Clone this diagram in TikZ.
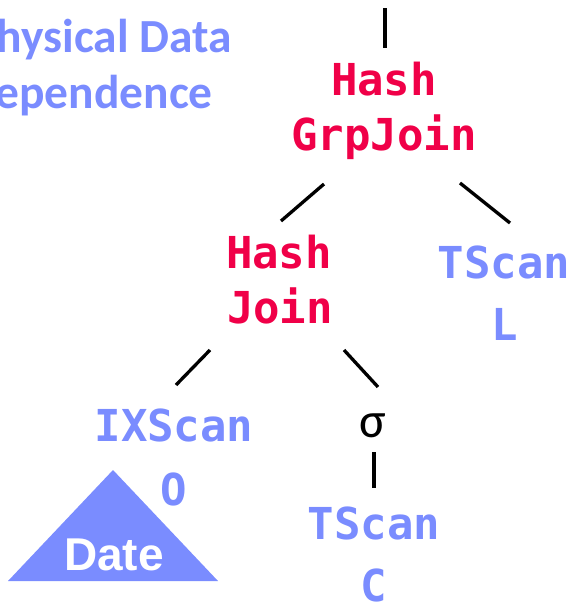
\documentclass[tikz,border=0pt]{standalone}
\usepackage{fontspec}
\newfontfamily\opfont[Scale=1]{DejaVu Sans Mono}
\newfontfamily\headfont{Carlito}
\newfontfamily\datefont{Liberation Sans}
\definecolor{opred}{RGB}{240,0,72}
\definecolor{opblue}{RGB}{122,140,255}
\tikzset{
  lbl/.style={anchor=base, inner sep=0pt, font=\opfont\bfseries\fontsize{44}{44}\selectfont},
  redop/.style={lbl, text=opred},
  blueop/.style={lbl, text=opblue},
  edge/.style={line width=3.3pt, black},
  head/.style={anchor=base east, inner sep=0pt, text=opblue, font=\headfont\bfseries\fontsize{47.5}{47.5}\selectfont}
}
\begin{document}
\begin{tikzpicture}[x=1pt,y=-1pt]
\useasboundingbox (0,0) rectangle (569,603);
\begin{scope}
\clip (0,0) rectangle (569,603);
% heading
\node[head] (h1) at (232,52) {Physical Data};
\node[head] (h2) at (213,108) {Dependence};
% operators
\node[redop] (hgj1) at (384,95) {Hash};
\node[redop] (hgj2) at (384,150) {GrpJoin};
\node[redop] (hj1) at (279,268) {Hash};
\node[redop] (hj2) at (280,323) {Join};
\node[blueop] (tl1) at (504,278) {TScan};
\node[blueop] (tl2) at (505,340) {L};
\node[blueop] (ix1) at (174,441) {IXScan};
\node[blueop] (ix2) at (174,505) {O};
\node[anchor=base, inner sep=0pt, font=\headfont\fontsize{50}{50}\selectfont] (sig) at (373,437) {σ};
\node[blueop] (tc1) at (374,539) {TScan};
\node[blueop] (tc2) at (374,601) {C};
% index triangle
\fill[opblue] (113,470) -- (218,581) -- (8,581) -- cycle;
\node[anchor=base, inner sep=0pt, text=white, font=\datefont\bfseries\fontsize{46}{46}\selectfont] (date) at (114,570) {Date};
% connector end points
\coordinate (t0) at (385,8);
\coordinate (t1) at (385,48);
\coordinate (a0) at (324,184);
\coordinate (a1) at (281,221);
\coordinate (b0) at (460,183);
\coordinate (b1) at (510,223);
\coordinate (c0) at (210,350);
\coordinate (c1) at (176,385);
\coordinate (d0) at (344,350);
\coordinate (d1) at (378,387);
\coordinate (e0) at (374,452);
\coordinate (e1) at (374,488);
\draw[edge] (t0) -- (t1);
\draw[edge] (a0) -- (a1);
\draw[edge] (b0) -- (b1);
\draw[edge] (c0) -- (c1);
\draw[edge] (d0) -- (d1);
\draw[edge] (e0) -- (e1);
\end{scope}
\end{tikzpicture}
\end{document}
